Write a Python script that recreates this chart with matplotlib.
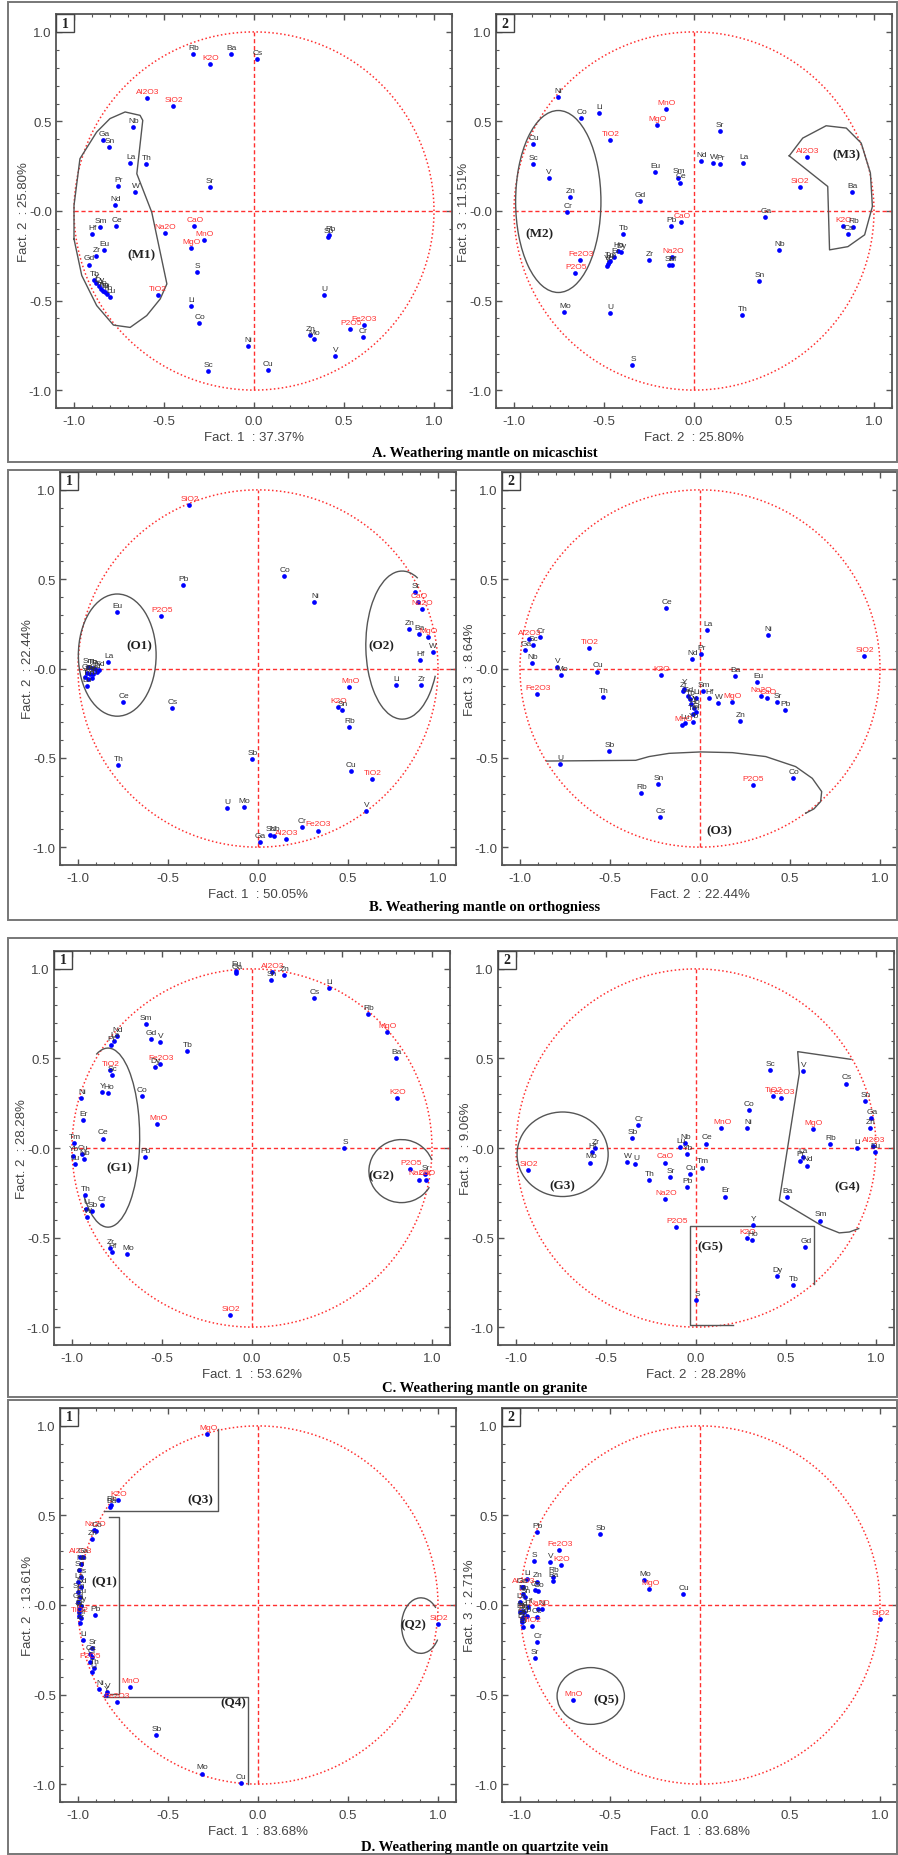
"""Correlation circles (factor loadings) for the four weathering mantles.

Eight panels: for each mantle, factor plane 1 (left) and plane 2 (right).
Values were read off the published figure.
"""

import numpy as np
import matplotlib
matplotlib.use("Agg")
import matplotlib.pyplot as plt
from matplotlib.patches import Arc, Rectangle
from matplotlib.ticker import FixedLocator, FixedFormatter, MultipleLocator

OXIDES = {"SiO2", "Al2O3", "Fe2O3", "MnO", "MgO", "CaO", "Na2O", "K2O", "TiO2", "P2O5"}

# ---------------------------------------------------------------- A. micaschist
A1_NAMES = ["Rb", "K2O", "Ba", "Cs", "Al2O3", "SiO2", "Nb", "Ga", "Sn", "La", "Th", "Pr",
            "W", "Sr", "Nd", "Sm", "Ce", "Hf", "Na2O", "CaO", "MnO", "MgO", "Eu", "Zr",
            "Gd", "S", "Tb", "Y", "Dy", "Ho", "Er", "Tm", "Yb", "Lu", "TiO2", "Li", "Co",
            "Ni", "Sc", "Cu", "Pb", "Sb", "U", "Zn", "Mo", "P2O5", "Fe2O3", "Cr", "V"]
A1_X = [-0.341, -0.247, -0.128, 0.017, -0.592, -0.449, -0.670, -0.837, -0.805, -0.688,
        -0.601, -0.755, -0.660, -0.247, -0.772, -0.855, -0.768, -0.902, -0.495, -0.332,
        -0.280, -0.351, -0.835, -0.876, -0.917, -0.317, -0.889, -0.876, -0.863, -0.848,
        -0.829, -0.840, -0.815, -0.801, -0.536, -0.351, -0.304, -0.035, -0.258, 0.076,
        0.419, 0.410, 0.388, 0.310, 0.332, 0.536, 0.610, 0.603, 0.449]
A1_Y = [0.879, 0.823, 0.875, 0.851, 0.629, 0.588, 0.471, 0.396, 0.359, 0.266, 0.262, 0.137,
        0.105, 0.135, 0.034, -0.087, -0.083, -0.128, -0.124, -0.083, -0.161, -0.206,
        -0.217, -0.249, -0.299, -0.342, -0.385, -0.403, -0.417, -0.435, -0.454, -0.445,
        -0.463, -0.478, -0.467, -0.528, -0.625, -0.756, -0.896, -0.890, -0.133, -0.145,
        -0.467, -0.692, -0.717, -0.659, -0.635, -0.706, -0.808]

A2_NAMES = ["Ni", "Co", "Li", "MnO", "MgO", "TiO2", "Sr", "Cu", "Sc", "V", "Nd", "W", "Pr",
            "La", "Eu", "Sm", "Ce", "Gd", "Zn", "Cr", "Al2O3", "SiO2", "Ba", "Ga", "K2O",
            "Rb", "Cs", "Pb", "CaO", "Tb", "Dy", "Ho", "Er", "Tm", "Lu", "Yb", "Y", "Zr",
            "Na2O", "Sb", "Hf", "Fe2O3", "P2O5", "Nb", "Sn", "Mo", "U", "Th", "S"]
A2_X = [-0.758, -0.626, -0.527, -0.158, -0.207, -0.468, 0.142, -0.892, -0.896, -0.808,
        0.040, 0.107, 0.142, 0.273, -0.217, -0.087, -0.077, -0.302, -0.691, -0.706, 0.630,
        0.587, 0.876, 0.397, 0.827, 0.883, 0.857, -0.129, -0.072, -0.395, -0.405, -0.424,
        -0.442, -0.464, -0.470, -0.479, -0.483, -0.250, -0.122, -0.140, -0.122, -0.634,
        -0.660, 0.472, 0.362, -0.721, -0.468, 0.267, -0.343]
A2_Y = [0.636, 0.521, 0.549, 0.571, 0.478, 0.396, 0.446, 0.372, 0.260, 0.185, 0.279, 0.266,
        0.262, 0.270, 0.215, 0.187, 0.159, 0.057, 0.079, -0.008, 0.303, 0.135, 0.107,
        -0.033, -0.083, -0.092, -0.129, -0.083, -0.064, -0.129, -0.230, -0.223, -0.255,
        -0.279, -0.286, -0.297, -0.307, -0.273, -0.255, -0.301, -0.301, -0.273, -0.344,
        -0.217, -0.390, -0.562, -0.568, -0.581, -0.858]

# ---------------------------------------------------------------- B. orthogneiss
B1_NAMES = ["SiO2", "Pb", "Co", "Ni", "Eu", "P2O5", "La", "Sm", "Tb", "Pr", "Nd", "Gd",
            "Dy", "Ho", "Er", "Y", "Tm", "Yb", "Lu", "Ce", "Cs", "Th", "Sr", "CaO", "Na2O",
            "Zn", "Ba", "MgO", "W", "Hf", "Li", "Zr", "MnO", "K2O", "Sn", "Rb", "Sb", "Cu",
            "TiO2", "V", "U", "Mo", "Ga", "Sc", "Nb", "Al2O3", "Cr", "Fe2O3"]
B1_X = [-0.385, -0.415, 0.145, 0.313, -0.782, -0.538, -0.834, -0.942, -0.924, -0.905,
        -0.886, -0.952, -0.933, -0.914, -0.896, -0.961, -0.942, -0.920, -0.952, -0.749,
        -0.479, -0.777, 0.872, 0.890, 0.909, 0.838, 0.894, 0.946, 0.970, 0.898, 0.769,
        0.905, 0.508, 0.443, 0.469, 0.508, -0.032, 0.514, 0.635, 0.598, -0.175, -0.078,
        0.009, 0.067, 0.089, 0.158, 0.242, 0.331]
B1_Y = [0.914, 0.467, 0.519, 0.373, 0.314, 0.292, 0.036, 0.008, 0.004, -0.001, -0.007,
        -0.025, -0.029, -0.032, -0.020, -0.048, -0.057, -0.051, -0.100, -0.188, -0.219,
        -0.540, 0.430, 0.374, 0.333, 0.221, 0.195, 0.174, 0.090, 0.049, -0.090, -0.090,
        -0.105, -0.215, -0.234, -0.328, -0.508, -0.573, -0.620, -0.797, -0.782, -0.778,
        -0.972, -0.931, -0.935, -0.953, -0.888, -0.907]

B2_NAMES = ["Ce", "La", "Ni", "Cr", "Al2O3", "Ga", "Sc", "Nb", "TiO2", "V", "Mo", "Cu",
            "K2O", "Nd", "Pr", "Fe2O3", "Th", "Ba", "Eu", "Na2O", "CaO", "Sr", "Pb", "MgO",
            "W", "Hf", "Sm", "Zn", "Y", "Zr", "Gd", "Tb", "Dy", "Ho", "Er", "Tm", "Yb",
            "Lu", "MnO", "Sb", "U", "Sn", "Rb", "Cs", "P2O5", "Co", "SiO2", "Li"]
B2_X = [-0.187, 0.039, 0.376, -0.889, -0.950, -0.970, -0.930, -0.933, -0.617, -0.793,
        -0.770, -0.572, -0.217, -0.044, 0.004, -0.904, -0.539, 0.194, 0.319, 0.337, 0.374,
        0.430, 0.470, 0.178, 0.100, 0.052, 0.017, 0.224, -0.089, -0.093, -0.069, -0.057,
        -0.048, -0.033, -0.024, -0.037, -0.037, -0.085, -0.098, -0.506, -0.780, -0.233,
        -0.326, -0.220, 0.294, 0.517, 0.913, -0.020]
B2_Y = [0.339, 0.214, 0.186, 0.177, 0.164, 0.102, 0.130, 0.030, 0.117, 0.009, -0.035,
        -0.017, -0.035, 0.052, 0.080, -0.143, -0.162, -0.041, -0.078, -0.156, -0.164,
        -0.186, -0.231, -0.186, -0.192, -0.166, -0.125, -0.296, -0.112, -0.127, -0.155,
        -0.171, -0.199, -0.223, -0.242, -0.257, -0.298, -0.307, -0.317, -0.464, -0.533,
        -0.648, -0.695, -0.831, -0.654, -0.613, 0.068, -0.164]

# ---------------------------------------------------------------- C. granite
C1_NAMES = ["Eu", "Ga", "Al2O3", "Sn", "Zn", "Li", "Cs", "Rb", "MgO", "Ba", "K2O", "S",
            "P2O5", "Sr", "Na2O", "CaO", "Sm", "Nd", "La", "Pr", "Gd", "V", "Tb", "Fe2O3",
            "Dy", "TiO2", "Sc", "Y", "Ho", "Co", "Ni", "Er", "MnO", "Ce", "Tm", "Cu", "Yb",
            "Lu", "Nb", "Pb", "Th", "Cr", "U", "Sb", "W", "Zr", "Hf", "Mo", "SiO2"]
C1_X = [-0.091, -0.087, 0.111, 0.106, 0.176, 0.430, 0.346, 0.643, 0.748, 0.800, 0.804,
        0.513, 0.880, 0.963, 0.926, 0.969, -0.591, -0.750, -0.765, -0.785, -0.563, -0.509,
        -0.363, -0.511, -0.541, -0.791, -0.780, -0.833, -0.798, -0.613, -0.948, -0.937,
        -0.526, -0.830, -0.987, -0.943, -0.994, -0.985, -0.931, -0.594, -0.928, -0.835,
        -0.922, -0.891, -0.915, -0.791, -0.780, -0.693, -0.122]
C1_Y = [0.991, 0.976, 0.981, 0.939, 0.968, 0.894, 0.836, 0.749, 0.650, 0.505, 0.278,
        0.000, -0.116, -0.144, -0.176, -0.176, 0.691, 0.626, 0.596, 0.576, 0.607, 0.594,
        0.539, 0.470, 0.451, 0.433, 0.409, 0.312, 0.306, 0.288, 0.278, 0.155, 0.135, 0.053,
        0.029, -0.033, -0.042, -0.092, -0.064, -0.053, -0.261, -0.319, -0.338, -0.354,
        -0.386, -0.561, -0.580, -0.593, -0.935]

C2_NAMES = ["Sc", "V", "Cs", "TiO2", "Fe2O3", "Sn", "Co", "Ga", "Zn", "MgO", "Ni", "MnO",
            "Rb", "Li", "Al2O3", "Eu", "Pr", "La", "Nd", "Ba", "Sm", "Cr", "Sb", "Zr", "Hf",
            "Mo", "SiO2", "W", "U", "Lu", "Nb", "Yb", "Ce", "Tm", "CaO", "Sr", "Cu", "Th",
            "Pb", "Na2O", "Er", "P2O5", "Y", "K2O", "Ho", "Gd", "Dy", "Tb", "S"]
C2_X = [0.409, 0.594, 0.835, 0.430, 0.474, 0.937, 0.293, 0.974, 0.969, 0.650, 0.285, 0.141,
        0.746, 0.896, 0.981, 0.993, 0.578, 0.593, 0.617, 0.506, 0.691, -0.320, -0.356,
        -0.561, -0.580, -0.587, -0.933, -0.383, -0.337, -0.089, -0.063, -0.050, 0.057,
        0.035, -0.174, -0.144, -0.031, -0.263, -0.050, -0.170, 0.159, -0.111, 0.315, 0.285,
        0.311, 0.607, 0.450, 0.539, 0.002]
C2_Y = [0.433, 0.430, 0.360, 0.290, 0.281, 0.260, 0.212, 0.165, 0.111, 0.106, 0.111, 0.111,
        0.021, -0.001, 0.010, -0.025, -0.070, -0.053, -0.098, -0.275, -0.405, 0.128, 0.055,
        -0.001, -0.023, -0.081, -0.124, -0.076, -0.090, 0.005, 0.029, -0.036, 0.025,
        -0.109, -0.081, -0.161, -0.143, -0.180, -0.219, -0.284, -0.271, -0.439, -0.430,
        -0.502, -0.515, -0.555, -0.713, -0.763, -0.847]

# ---------------------------------------------------------------- D. quartzite vein
D1_NAMES = ["MgO", "K2O", "Ba", "Rb", "Na2O", "Co", "Zn", "Al2O3", "Ga", "Nb", "Sn", "Cs",
            "La", "Nd", "Sm", "Eu", "Gd", "Dy", "Er", "Yb", "Hf", "TiO2", "Zr", "Pb", "Li",
            "Sr", "Ce", "Cr", "P2O5", "Th", "U", "Ni", "V", "Y", "MnO", "Fe2O3", "Sb", "Mo",
            "Cu", "SiO2"]
D1_X = [-0.281, -0.777, -0.820, -0.818, -0.909, -0.899, -0.920, -0.987, -0.974, -0.983,
        -0.992, -0.983, -1.000, -0.983, -1.000, -0.987, -1.000, -0.983, -0.995, -0.992,
        -0.985, -0.994, -0.987, -0.907, -0.970, -0.922, -0.931, -0.925, -0.935, -0.913,
        -0.920, -0.881, -0.838, -0.845, -0.710, -0.786, -0.564, -0.311, -0.096, 1.000]
D1_Y = [0.953, 0.588, 0.547, 0.560, 0.417, 0.413, 0.367, 0.267, 0.268, 0.230, 0.193, 0.156,
        0.128, 0.100, 0.072, 0.044, 0.016, -0.003, -0.021, -0.040, -0.075, -0.064, -0.100,
        -0.057, -0.193, -0.240, -0.273, -0.290, -0.316, -0.353, -0.375, -0.467, -0.487,
        -0.505, -0.457, -0.541, -0.726, -0.941, -0.996, -0.107]

D2_NAMES = ["Pb", "Sb", "Fe2O3", "S", "V", "K2O", "Rb", "Ba", "Mo", "MgO", "Cu", "Li",
            "Zn", "Cs", "Co", "Al2O3", "Ni", "Na2O", "Ce", "Cr", "Sr", "MnO", "SiO2", "Ga",
            "Nb", "Sn", "La", "Nd", "Sm", "Eu", "Gd", "Dy", "Er", "Yb", "Hf", "TiO2", "Zr"]
D2_X = [-0.906, -0.557, -0.781, -0.924, -0.833, -0.772, -0.819, -0.819, -0.309, -0.281,
        -0.094, -0.963, -0.907, -0.917, -0.900, -0.985, -0.880, -0.898, -0.907, -0.906,
        -0.919, -0.707, 1.000, -0.991, -0.981, -0.972, -1.000, -0.991, -0.978, -0.998,
        -0.985, -0.991, -0.985, -0.963, -0.954, -0.935, -0.990]
D2_Y = [0.407, 0.398, 0.305, 0.243, 0.240, 0.221, 0.159, 0.133, 0.141, 0.090, 0.062, 0.146,
        0.131, 0.081, 0.078, 0.100, -0.021, -0.021, -0.068, -0.206, -0.295, -0.530, -0.077,
        0.100, 0.062, 0.044, 0.016, -0.031, -0.040, -0.040, -0.068, -0.096, -0.124, -0.059,
        -0.012, -0.115, -0.080]

TITLES = ["A. Weathering mantle on micaschist",
          "B. Weathering mantle on orthogniess",
          "C. Weathering mantle on granite",
          "D. Weathering mantle on quartzite vein"]

RED = "#ff3030"
GREY = "#555555"
W_PX, H_PX = 898, 1856


def fig_rect(left, top, width, height):
    """Pixel box (top-left origin) -> figure fraction rect."""
    return [left / W_PX, 1 - (top + height) / H_PX, width / W_PX, height / H_PX]


def draw_panel(ax, names, xs, ys, xlabel, ylabel, number):
    t = np.linspace(0, 2 * np.pi, 400)
    ax.plot(np.cos(t), np.sin(t), ls=(0, (1, 1.6)), color=RED, lw=1.1)
    ax.plot([-1, 1.1], [0, 0], ls=(0, (3, 2)), color=RED, lw=1.0)
    ax.plot([0, 0], [-1, 1], ls=(0, (3, 2)), color=RED, lw=1.0)

    ax.plot(xs, ys, "o", color="#0000ff", ms=3.4, mec="none", zorder=4)
    for name, x, y in zip(names, xs, ys):
        col = RED if name in OXIDES else "#333333"
        ax.annotate(name, (x, y), xytext=(0.5, 2.2), textcoords="offset points",
                    ha="center", va="bottom", fontsize=6, color=col, zorder=5)

    ax.set_xlim(-1.1, 1.1)
    ax.set_ylim(-1.1, 1.1)
    major = [-1.0, -0.5, 0.0, 0.5, 1.0]
    ax.xaxis.set_major_locator(FixedLocator(major))
    ax.yaxis.set_major_locator(FixedLocator(major))
    ax.xaxis.set_major_formatter(FixedFormatter(["-1.0", "-0.5", "0.0", "0.5", "1.0"]))
    ax.yaxis.set_major_formatter(FixedFormatter(["-1.0", "-0.5", "-0.0", "0.5", "1.0"]))
    ax.xaxis.set_minor_locator(MultipleLocator(0.1))
    ax.yaxis.set_minor_locator(MultipleLocator(0.1))
    ax.tick_params(which="both", direction="in", top=True, right=True, color=GREY,
                   labelsize=9.5, labelcolor="#444444")
    ax.tick_params(which="major", length=4, width=1.0)
    ax.tick_params(which="minor", length=2.5, width=0.8)
    ax.tick_params(axis="x", pad=5)
    ax.tick_params(axis="y", pad=3)
    for sp in ax.spines.values():
        sp.set_color(GREY)
        sp.set_linewidth(1.3)

    ax.set_xlabel(xlabel, fontsize=9.5, color="#444444")
    ax.set_ylabel(ylabel, fontsize=9.5, color="#444444")
    ax.xaxis.label.set_va("center")
    ax.yaxis.label.set_va("center")
    ax.xaxis.set_label_coords(0.5, -0.074)
    ax.yaxis.set_label_coords(-0.08, 0.5)

    bw, bh = 18 / 396, 18 / 394
    ax.add_patch(Rectangle((0, 1 - bh), bw, bh, transform=ax.transAxes, fc="white",
                           ec="#444444", lw=1.0, zorder=6))
    ax.text(bw / 2, 1 - bh / 2, str(number), transform=ax.transAxes, ha="center",
            va="center", fontsize=10, fontweight="bold", family="Liberation Serif",
            color="#222222", zorder=7)


def outline(ax, xs, ys):
    ax.plot(xs, ys, color=GREY, lw=1.0, zorder=3)


def ring(ax, cx, cy, w, h, t1=0, t2=360):
    ax.add_patch(Arc((cx, cy), w, h, theta1=t1, theta2=t2, color=GREY, lw=1.0, zorder=3))


def tag(ax, x, y, text):
    ax.text(x, y, text, ha="center", va="center", fontsize=9.5, fontweight="bold",
            family="Liberation Serif", color="#222222", zorder=5)


def main():
    plt.rcParams["font.family"] = ["Liberation Sans", "DejaVu Sans"]
    fig = plt.figure(figsize=(W_PX / 100, H_PX / 100), dpi=100)

    # outer frames of the four figure groups
    for top, bottom in [(3, 463), (471, 921), (939, 1398), (1401, 1855)]:
        fig.add_artist(Rectangle((8 / W_PX, 1 - bottom / H_PX), (897 - 8) / W_PX,
                                 (bottom - top) / H_PX, transform=fig.transFigure,
                                 fill=False, ec="#777777", lw=1.4))

    # A -----------------------------------------------------------------------
    ax = fig.add_axes(fig_rect(56, 15, 396, 394))
    draw_panel(ax, A1_NAMES, A1_X, A1_Y, "Fact. 1  : 37.37%", "Fact. 2  : 25.80%", 1)
    outline(ax,
            [-1.0, -1.0, -0.967, -0.874, -0.800, -0.716, -0.633, -0.618, -0.651, -0.568,
             -0.484, -0.521, -0.596, -0.688, -0.781, -0.874, -0.957, -1.0],
            [-0.156, 0.031, 0.292, 0.441, 0.516, 0.553, 0.534, 0.506, 0.208, -0.007,
             -0.407, -0.491, -0.584, -0.650, -0.637, -0.528, -0.360, -0.156])
    tag(ax, -0.623, -0.240, "(M1)")

    ax = fig.add_axes(fig_rect(496, 15, 396, 394))
    draw_panel(ax, A2_NAMES, A2_X, A2_Y, "Fact. 2  : 25.80%", "Fact. 3  : 11.51%", 2)
    ring(ax, -0.754, 0.053, 0.474, 1.016)
    tag(ax, -0.857, -0.124, "(M2)")
    outline(ax,
            [0.529, 0.604, 0.734, 0.846, 0.929, 0.980, 0.991, 0.948, 0.855, 0.753, 0.743,
             0.529],
            [0.308, 0.407, 0.476, 0.463, 0.379, 0.212, 0.025, -0.133, -0.199, -0.217,
             0.137, 0.308])
    tag(ax, 0.846, 0.314, "(M3)")
    fig.text(485 / W_PX, 1 - 453 / H_PX, TITLES[0], ha="center", va="center",
             fontsize=10.5, fontweight="bold", family="Liberation Serif")

    # B -----------------------------------------------------------------------
    ax = fig.add_axes(fig_rect(60, 473, 396, 393))
    draw_panel(ax, B1_NAMES, B1_X, B1_Y, "Fact. 1  : 50.05%", "Fact. 2  : 22.44%", 1)
    ring(ax, -0.782, 0.075, 0.432, 0.684)
    tag(ax, -0.661, 0.128, "(O1)")
    ring(ax, 0.801, 0.131, 0.404, 0.829, 77, 317)
    tag(ax, 0.685, 0.131, "(O2)")

    ax = fig.add_axes(fig_rect(502, 473, 396, 393))
    draw_panel(ax, B2_NAMES, B2_X, B2_Y, "Fact. 2  : 22.44%", "Fact. 3  : 8.64%", 2)
    outline(ax,
            [-0.852, -0.357, -0.283, -0.172, 0.004, 0.180, 0.365, 0.531, 0.624, 0.676,
             0.670, 0.633, 0.587],
            [-0.518, -0.514, -0.493, -0.475, -0.467, -0.471, -0.493, -0.549, -0.615,
             -0.689, -0.745, -0.786, -0.810])
    tag(ax, 0.106, -0.903, "(O3)")
    fig.text(485 / W_PX, 1 - 908 / H_PX, TITLES[1], ha="center", va="center",
             fontsize=10.5, fontweight="bold", family="Liberation Serif")

    # C -----------------------------------------------------------------------
    ax = fig.add_axes(fig_rect(54, 952, 396, 394))
    draw_panel(ax, C1_NAMES, C1_X, C1_Y, "Fact. 1  : 53.62%", "Fact. 2  : 28.28%", 1)
    ring(ax, -0.800, 0.058, 0.352, 1.0, -112, 98)
    tag(ax, -0.737, -0.107, "(G1)")
    ring(ax, 0.830, -0.129, 0.361, 0.352, 20, 330)
    tag(ax, 0.719, -0.153, "(G2)")

    ax = fig.add_axes(fig_rect(498, 952, 396, 394))
    draw_panel(ax, C2_NAMES, C2_X, C2_Y, "Fact. 2  : 28.28%", "Fact. 3  : 9.06%", 2)
    ring(ax, -0.741, -0.035, 0.506, 0.472)
    tag(ax, -0.744, -0.210, "(G3)")
    outline(ax, [0.861, 0.565, 0.574, 0.463, 0.704, 0.796, 0.852, 0.904],
            [0.495, 0.538, 0.417, -0.292, -0.437, -0.474, -0.469, -0.450])
    tag(ax, 0.843, -0.214, "(G4)")
    outline(ax, [0.204, -0.031, -0.031, 0.657, 0.657],
            [-0.991, -0.991, -0.437, -0.437, -0.758])
    tag(ax, 0.078, -0.549, "(G5)")
    fig.text(485 / W_PX, 1 - 1389 / H_PX, TITLES[2], ha="center", va="center",
             fontsize=10.5, fontweight="bold", family="Liberation Serif")

    # D -----------------------------------------------------------------------
    ax = fig.add_axes(fig_rect(60, 1409, 396, 394))
    draw_panel(ax, D1_NAMES, D1_X, D1_Y, "Fact. 1  : 83.68%", "Fact. 2  : 13.61%", 1)
    outline(ax, [-0.857, -0.222, -0.222], [0.525, 0.525, 0.980])
    tag(ax, -0.319, 0.588, "(Q3)")
    outline(ax, [-0.829, -0.770, -0.770, -0.820], [0.489, 0.489, -0.497, -0.497])
    tag(ax, -0.853, 0.133, "(Q1)")
    outline(ax, [-0.857, -0.055, -0.055], [-0.512, -0.512, -1.0])
    tag(ax, -0.138, -0.543, "(Q4)")
    ring(ax, 0.905, -0.115, 0.215, 0.31, 50, 320)
    tag(ax, 0.865, -0.109, "(Q2)")

    ax = fig.add_axes(fig_rect(502, 1409, 396, 394))
    draw_panel(ax, D2_NAMES, D2_X, D2_Y, "Fact. 1  : 83.68%", "Fact. 3  : 2.71%", 2)
    ring(ax, -0.607, -0.508, 0.374, 0.317)
    tag(ax, -0.519, -0.525, "(Q5)")
    fig.text(485 / W_PX, 1 - 1848 / H_PX, TITLES[3], ha="center", va="center",
             fontsize=10.5, fontweight="bold", family="Liberation Serif")

    fig.savefig("out.png", dpi=100, facecolor="white")
    plt.close(fig)


if __name__ == "__main__":
    main()
